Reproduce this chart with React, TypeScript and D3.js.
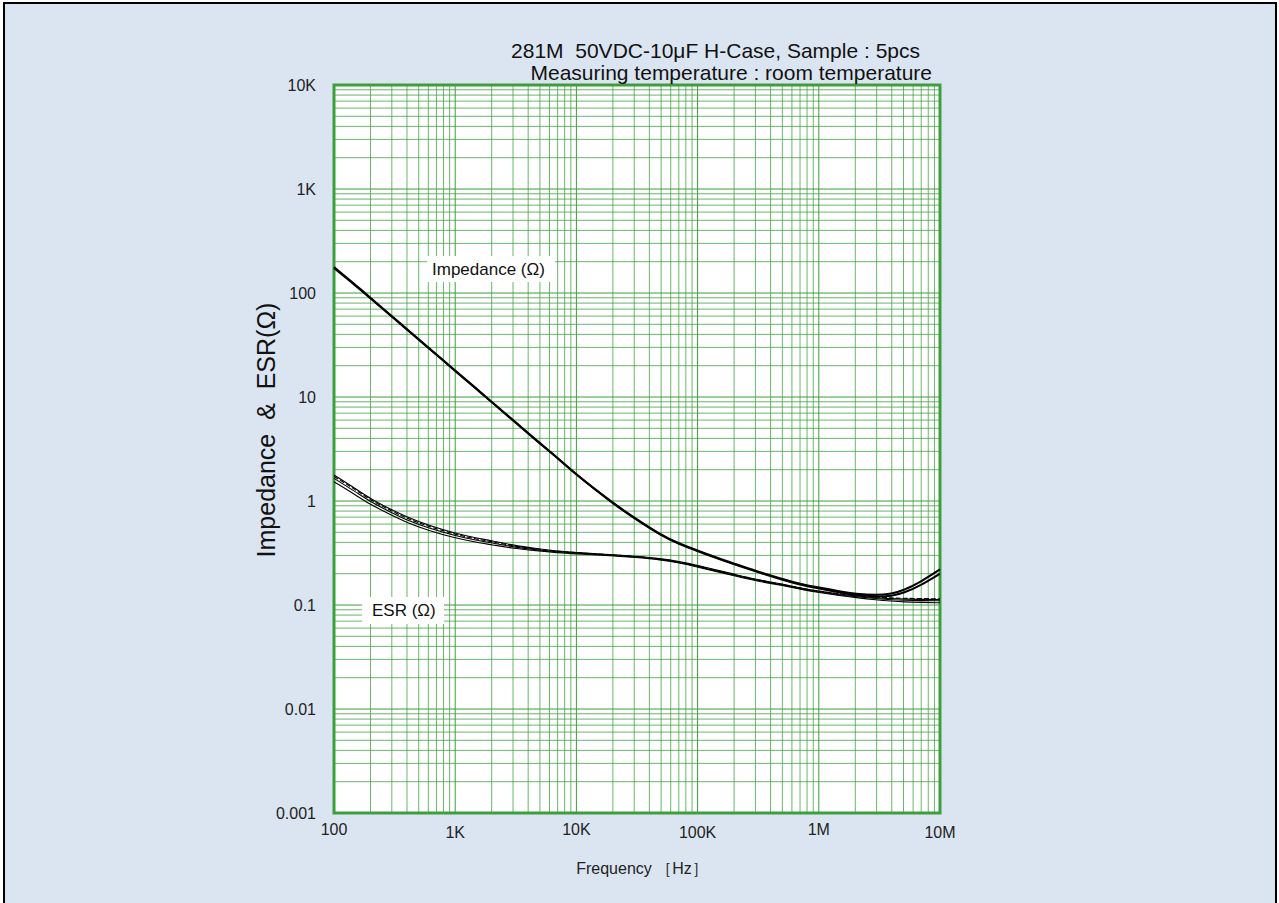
import React, { useEffect, useRef } from "react";
import * as d3 from "d3";

// measured frequencies [Hz]
const freq = [
  100, 150, 200, 300, 400, 600, 1000, 1500, 2000, 3000, 5000, 7000, 10000,
  15000, 20000, 30000, 50000, 70000, 100000, 150000, 200000, 300000, 500000,
  700000, 1e6, 1.5e6, 2e6, 3e6, 4e6, 5e6, 7e6, 1e7,
];

// impedance [ohm], 5pcs overlap almost completely -> two visible traces
const impedanceA = [
  178, 120, 90, 60, 45, 30, 18, 12, 9.0, 6.0, 3.6, 2.6, 1.8, 1.24, 0.96, 0.69,
  0.47, 0.39, 0.335, 0.28, 0.25, 0.213, 0.178, 0.16, 0.147, 0.135, 0.128, 0.124,
  0.128, 0.138, 0.168, 0.22,
];
const impedanceB = [
  174, 118, 89, 59, 44.5, 29.7, 17.8, 11.9, 8.9, 5.95, 3.57, 2.58, 1.79, 1.23,
  0.95, 0.68, 0.465, 0.385, 0.33, 0.276, 0.246, 0.21, 0.175, 0.157, 0.144,
  0.132, 0.125, 0.12, 0.122, 0.13, 0.155, 0.2,
];

// ESR [ohm]
const esrA = [
  1.78, 1.32, 1.05, 0.82, 0.7, 0.585, 0.49, 0.44, 0.415, 0.375, 0.345, 0.33,
  0.32, 0.31, 0.305, 0.295, 0.28, 0.262, 0.24, 0.214, 0.198, 0.177, 0.159,
  0.146, 0.136, 0.127, 0.122, 0.117, 0.115, 0.114, 0.113, 0.113,
];
const esrB = [
  1.53, 1.15, 0.92, 0.73, 0.62, 0.52, 0.44, 0.4, 0.38, 0.35, 0.33, 0.318,
  0.31, 0.302, 0.297, 0.287, 0.272, 0.254, 0.232, 0.207, 0.191, 0.171, 0.154,
  0.142, 0.132, 0.123, 0.118, 0.112, 0.109, 0.107, 0.106, 0.105,
];
const esrC = [
  1.65, 1.23, 0.98, 0.77, 0.655, 0.55, 0.463, 0.418, 0.397, 0.36, 0.337, 0.324,
  0.315, 0.306, 0.3, 0.29, 0.275, 0.257, 0.235, 0.21, 0.194, 0.174, 0.156,
  0.143, 0.133, 0.125, 0.12, 0.115, 0.112, 0.111, 0.11, 0.11,
];
const esrD = [
  1.72, 1.29, 1.02, 0.8, 0.68, 0.57, 0.477, 0.43, 0.407, 0.368, 0.342, 0.328,
  0.318, 0.309, 0.303, 0.293, 0.278, 0.26, 0.238, 0.212, 0.196, 0.176, 0.158,
  0.145, 0.135, 0.128, 0.123, 0.119, 0.117, 0.116, 0.115, 0.115,
];

const xTickValues = [100, 1e3, 1e4, 1e5, 1e6, 1e7];
const xTickLabels = ["100", "1K", "10K", "100K", "1M", "10M"];
const yTickValues = [0.001, 0.01, 0.1, 1, 10, 100, 1000, 10000];
const yTickLabels = ["0.001", "0.01", "0.1", "1", "10", "100", "1K", "10K"];

const FONT = "'Liberation Sans', Arial, sans-serif";
const GRID = "#3a9d3a";

const App = () => {
  const svgRef = useRef(null);
  const width = 1279;
  const height = 903;
  const plot = { left: 334, right: 940, top: 85, bottom: 813 };

  useEffect(() => {
    const svg = d3.select(svgRef.current);
    svg.selectAll("*").remove();

    const x = d3.scaleLog().domain([100, 1e7]).range([plot.left, plot.right]);
    const y = d3
      .scaleLog()
      .domain([0.001, 10000])
      .range([plot.bottom, plot.top]);

    // frame
    svg
      .append("rect")
      .attr("x", 4)
      .attr("y", 3)
      .attr("width", 1272)
      .attr("height", 910)
      .attr("fill", "#dbe5f1")
      .attr("stroke", "#000")
      .attr("stroke-width", 2);

    svg
      .append("rect")
      .attr("x", plot.left)
      .attr("y", plot.top)
      .attr("width", plot.right - plot.left)
      .attr("height", plot.bottom - plot.top)
      .attr("fill", "#fff");

    // log grid
    const gridVals = (lo: number, hi: number) => {
      const out: number[] = [];
      for (let p = lo; p < hi; p++)
        for (let k = 1; k <= 9; k++) out.push(k * Math.pow(10, p));
      return out;
    };
    const isDecade = (d: number) => {
      const r = Math.log10(d) - Math.round(Math.log10(d));
      return Math.abs(r) < 1e-6;
    };
    const grid = svg.append("g").attr("stroke", GRID).attr("stroke-width", 1);
    grid
      .selectAll("line.v")
      .data(gridVals(2, 7).slice(1))
      .enter()
      .append("line")
      .attr("x1", (d) => x(d))
      .attr("x2", (d) => x(d))
      .attr("y1", plot.top)
      .attr("y2", plot.bottom)
      .attr("stroke-opacity", (d) => (isDecade(d) ? 1 : 0.75));
    grid
      .selectAll("line.h")
      .data(gridVals(-3, 4).slice(1))
      .enter()
      .append("line")
      .attr("x1", plot.left)
      .attr("x2", plot.right)
      .attr("y1", (d) => y(d))
      .attr("y2", (d) => y(d))
      .attr("stroke-opacity", (d) => (isDecade(d) ? 1 : 0.75));

    svg
      .append("rect")
      .attr("x", plot.left)
      .attr("y", plot.top)
      .attr("width", plot.right - plot.left)
      .attr("height", plot.bottom - plot.top)
      .attr("fill", "none")
      .attr("stroke", "#3c9f3c")
      .attr("stroke-width", 3);

    // label boxes
    const boxes = [
      { x0: 427, y0: 256, w: 128, h: 26, text: "Impedance (Ω)", tx: 432 },
      { x0: 362, y0: 597, w: 82, h: 27, text: "ESR (Ω)", tx: 372 },
    ];
    boxes.forEach((b) => {
      svg
        .append("rect")
        .attr("x", b.x0)
        .attr("y", b.y0)
        .attr("width", b.w)
        .attr("height", b.h)
        .attr("fill", "#fff");
      svg
        .append("text")
        .attr("x", b.tx)
        .attr("y", b.y0 + b.h / 2)
        .attr("dy", "0.35em")
        .attr("font-family", FONT)
        .attr("font-size", 17)
        .attr("fill", "#111")
        .text(b.text);
    });

    // curves
    const line = d3
      .line<number>()
      .x((_, i) => x(freq[i]))
      .y((d) => y(d))
      .curve(d3.curveBasis);

    [esrA, esrB, esrC].forEach((s) => {
      svg
        .append("path")
        .attr("d", line(s))
        .attr("fill", "none")
        .attr("stroke", "#000")
        .attr("stroke-width", 1.1);
    });
    svg
      .append("path")
      .attr("d", line(esrD))
      .attr("fill", "none")
      .attr("stroke", "#000")
      .attr("stroke-width", 1.1)
      .attr("stroke-dasharray", "5,2");

    [impedanceA, impedanceB].forEach((s) => {
      svg
        .append("path")
        .attr("d", line(s))
        .attr("fill", "none")
        .attr("stroke", "#000")
        .attr("stroke-width", 2);
    });

    // tick labels
    svg
      .append("g")
      .selectAll("text")
      .data(xTickValues)
      .enter()
      .append("text")
      .attr("x", (d) => x(d))
      .attr("y", (_, i) => (i % 2 === 1 ? 838 : 835))
      .attr("text-anchor", "middle")
      .attr("font-family", FONT)
      .attr("font-size", 16)
      .attr("fill", "#222")
      .text((_, i) => xTickLabels[i]);

    svg
      .append("g")
      .selectAll("text")
      .data(yTickValues)
      .enter()
      .append("text")
      .attr("x", 316)
      .attr("y", (d) => y(d))
      .attr("dy", "0.35em")
      .attr("text-anchor", "end")
      .attr("font-family", FONT)
      .attr("font-size", 16)
      .attr("fill", "#222")
      .text((_, i) => yTickLabels[i]);

    // titles
    svg
      .append("text")
      .attr("x", 920)
      .attr("y", 58)
      .attr("text-anchor", "end")
      .attr("font-family", FONT)
      .attr("font-size", 21)
      .attr("fill", "#111")
      .style("white-space", "pre")
      .text("281M  50VDC-10μF H-Case, Sample : 5pcs");
    svg
      .append("text")
      .attr("x", 932)
      .attr("y", 80)
      .attr("text-anchor", "end")
      .attr("font-family", FONT)
      .attr("font-size", 21)
      .attr("fill", "#111")
      .text("Measuring temperature : room temperature");

    svg
      .append("text")
      .attr("x", 642)
      .attr("y", 868)
      .attr("dy", "0.35em")
      .attr("text-anchor", "middle")
      .attr("font-family", FONT)
      .attr("font-size", 16)
      .attr("fill", "#222")
      .style("white-space", "pre")
      .text("Frequency ［Hz］");

    svg
      .append("text")
      .attr("transform", "translate(266,430) rotate(-90)")
      .attr("dy", "0.35em")
      .attr("text-anchor", "middle")
      .attr("font-family", FONT)
      .attr("font-size", 25)
      .attr("fill", "#111")
      .style("white-space", "pre")
      .text("Impedance  &  ESR(Ω)");
  }, []);

  return (
    <svg
      ref={svgRef}
      width={width}
      height={height}
      style={{ position: "absolute", left: 0, top: 0, background: "#fff" }}
    ></svg>
  );
};

export default App;
